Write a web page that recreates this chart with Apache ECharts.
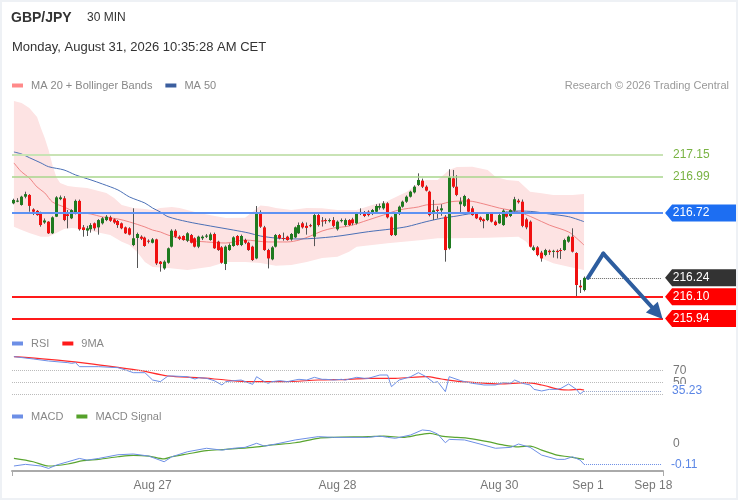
<!DOCTYPE html>
<html>
<head>
<meta charset="utf-8">
<title>GBP/JPY 30 MIN</title>
<script src="https://cdn.jsdelivr.net/npm/echarts@6.0.0/dist/echarts.min.js"></script>
<style>
  html, body { margin: 0; padding: 0; background: #fff; }
  #chart { width: 738px; height: 500px; }
  #frame { position: absolute; left: 0; top: 0; width: 738px; height: 500px; box-sizing: border-box; border: 2px solid #eef1f5; pointer-events: none; }
</style>
</head>
<body>
<div id="chart"></div>
<div id="frame"></div>
<script>
// candles, 30 min, index 0 = first visible bar
var opens = [216.792,216.804,216.780,216.841,216.854,216.747,216.736,216.722,216.650,216.656,
  216.570,216.693,216.823,216.829,216.711,216.681,216.718,216.810,216.614,216.590,
  216.600,216.644,216.614,216.644,216.668,216.688,216.673,216.661,216.644,216.614,
  216.607,216.483,216.535,216.545,216.538,216.515,216.500,216.525,216.360,216.310,
  216.352,216.471,216.589,216.545,216.550,216.515,216.557,216.533,216.471,216.533,
  216.545,216.520,216.565,216.508,216.466,216.343,216.446,216.476,216.550,216.483,
  216.520,216.500,216.471,216.384,216.713,216.614,216.446,216.377,216.471,216.557,
  216.535,216.545,216.525,216.540,216.570,216.644,216.625,216.630,216.545,216.705,
  216.665,216.668,216.660,216.668,216.600,216.660,216.631,216.668,216.673,216.644,
  216.718,216.722,216.730,216.718,216.730,216.760,216.755,216.792,216.688,216.557,
  216.713,216.767,216.804,216.841,216.873,216.928,216.960,216.915,216.878,216.725,
  216.745,216.740,216.693,216.459,216.977,216.915,216.785,216.773,216.822,216.755,
  216.718,216.688,216.673,216.668,216.713,216.656,216.644,216.631,216.722,216.698,
  216.738,216.812,216.804,216.673,216.656,216.446,216.466,216.427,216.409,216.441,
  216.435,216.440,216.446,216.446,216.508,216.545,216.424,216.182,216.150];
var closes = [216.817,216.812,216.841,216.860,216.773,216.730,216.705,216.631,216.665,216.570,
  216.688,216.836,216.836,216.668,216.698,216.742,216.810,216.600,216.594,216.607,
  216.631,216.607,216.668,216.681,216.693,216.663,216.650,216.631,216.607,216.570,
  216.560,216.533,216.565,216.530,216.476,216.508,216.525,216.347,216.343,216.360,
  216.459,216.589,216.545,216.530,216.520,216.570,216.500,216.471,216.545,216.545,
  216.553,216.562,216.459,216.446,216.352,216.471,216.483,216.540,216.483,216.550,
  216.500,216.446,216.372,216.713,216.619,216.446,216.384,216.466,216.557,216.533,
  216.528,216.520,216.565,216.614,216.631,216.614,216.610,216.625,216.705,216.631,
  216.660,216.660,216.668,216.625,216.656,216.668,216.668,216.631,216.644,216.722,
  216.728,216.698,216.705,216.742,216.772,216.772,216.792,216.688,216.557,216.713,
  216.767,216.804,216.841,216.878,216.915,216.965,216.915,216.886,216.705,216.740,
  216.735,216.755,216.446,216.985,216.915,216.854,216.805,216.846,216.730,216.705,
  216.681,216.668,216.660,216.713,216.656,216.631,216.705,216.738,216.693,216.742,
  216.822,216.800,216.625,216.614,216.471,216.466,216.409,216.384,216.446,216.430,
  216.440,216.431,216.440,216.520,216.545,216.434,216.187,216.170,216.240];
var lows = [216.785,216.800,216.775,216.829,216.730,216.705,216.700,216.619,216.640,216.565,
  216.565,216.690,216.815,216.660,216.607,216.675,216.710,216.590,216.545,216.550,
  216.575,216.590,216.560,216.635,216.660,216.655,216.640,216.610,216.600,216.565,
  216.555,216.475,216.313,216.520,216.470,216.495,216.495,216.335,216.286,216.300,
  216.345,216.465,216.535,216.520,216.515,216.505,216.495,216.465,216.460,216.520,
  216.535,216.515,216.455,216.440,216.345,216.298,216.440,216.470,216.478,216.475,
  216.490,216.440,216.365,216.378,216.610,216.440,216.310,216.370,216.465,216.525,
  216.515,216.515,216.515,216.535,216.565,216.605,216.560,216.615,216.475,216.620,
  216.620,216.640,216.650,216.615,216.590,216.650,216.620,216.625,216.630,216.635,
  216.705,216.690,216.695,216.705,216.720,216.745,216.745,216.680,216.550,216.550,
  216.705,216.760,216.795,216.835,216.865,216.920,216.905,216.880,216.695,216.668,
  216.680,216.700,216.360,216.450,216.905,216.845,216.718,216.765,216.720,216.700,
  216.675,216.655,216.607,216.660,216.650,216.625,216.640,216.625,216.685,216.690,
  216.730,216.790,216.615,216.600,216.465,216.440,216.400,216.360,216.400,216.410,
  216.390,216.384,216.380,216.440,216.500,216.428,216.100,216.128,216.140];
var highs = [216.826,216.830,216.848,216.878,216.860,216.755,216.742,216.730,216.680,216.660,
  216.695,216.845,216.850,216.845,216.742,216.748,216.820,216.820,216.631,216.625,
  216.645,216.650,216.675,216.690,216.705,216.700,216.680,216.668,216.650,216.620,
  216.615,216.755,216.575,216.555,216.545,216.525,216.535,216.530,216.365,216.370,
  216.465,216.600,216.600,216.555,216.555,216.578,216.565,216.540,216.552,216.555,
  216.565,216.575,216.575,216.515,216.475,216.480,216.495,216.548,216.557,216.560,
  216.530,216.508,216.478,216.772,216.740,216.625,216.455,216.475,216.565,216.565,
  216.575,216.552,216.572,216.620,216.650,216.655,216.650,216.640,216.715,216.720,
  216.690,216.680,216.680,216.690,216.665,216.680,216.680,216.675,216.685,216.728,
  216.755,216.735,216.740,216.750,216.785,216.790,216.808,216.800,216.695,216.720,
  216.775,216.812,216.850,216.885,216.925,217.014,216.975,216.925,216.885,216.817,
  216.770,216.785,216.705,217.044,217.039,217.000,216.836,216.855,216.830,216.770,
  216.725,216.695,216.680,216.720,216.720,216.665,216.718,216.748,216.730,216.748,
  216.840,216.825,216.820,216.685,216.665,216.480,216.475,216.440,216.455,216.450,
  216.448,216.450,216.460,216.530,216.553,216.607,216.430,216.224,216.250];

// overlays as [bar index, value]
var ma20 = [[0,217.091],[2,217.024],[4,216.98],[6,216.913],[8,216.869],[10,216.802],[13,216.765],[16,216.728],
  [20,216.713],[23,216.691],[27,216.676],[30,216.654],[34,216.617],[36,216.594],[38,216.58],[40,216.557],
  [45,216.52],[50,216.506],[55,216.498],[60,216.52],[66,216.506],[71,216.506],[74,216.52],[77,216.55],
  [80,216.587],[83,216.609],[87,216.624],[92,216.669],[96,216.706],[100,216.743],[105,216.765],[107,216.78],
  [111,216.787],[113,216.802],[116,216.809],[118,216.809],[122,216.787],[126,216.757],[131,216.728],
  [135,216.683],[139,216.631],[144,216.58],[146,216.535],[148,216.483]];
var ma50 = [[0,217.172],[2,217.157],[4,217.13],[7,217.091],[9,217.063],[13,217.039],[16,217.002],[20,216.965],
  [23,216.935],[27,216.891],[30,216.839],[34,216.794],[36,216.757],[38,216.728],[40,216.693],[45,216.656],
  [51,216.624],[57,216.594],[61,216.572],[64,216.55],[68,216.535],[74,216.528],[83,216.545],[92,216.582],
  [98,216.602],[102,216.619],[107,216.656],[111,216.681],[115,216.698],[118,216.713],[122,216.723],
  [126,216.723],[131,216.735],[135,216.73],[139,216.713],[144,216.693],[148,216.656]];
var bbUpper = [[0,217.55],[2,217.535],[4,217.498],[6,217.431],[7,217.35],[8,217.276],[9,217.187],[10,217.076],
  [11,216.987],[12,216.943],[14,216.92],[16,216.913],[19,216.906],[21,216.891],[24,216.869],[26,216.831],
  [28,216.78],[31,216.757],[34,216.75],[36,216.743],[38,216.757],[41,216.765],[43,216.757],[48,216.72],
  [55,216.683],[60,216.686],[62,216.73],[64,216.775],[66,216.77],[68,216.757],[72,216.743],[76,216.757],
  [80,216.755],[84,216.743],[89,216.743],[93,216.78],[97,216.809],[102,216.878],[105,216.94],[107,216.965],
  [110,216.965],[113,217.039],[115,217.061],[119,217.063],[123,217.039],[125,216.989],[128,216.965],
  [131,216.957],[134,216.878],[137,216.866],[140,216.854],[145,216.854],[148,216.861]];
var bbLower = [[0,216.619],[2,216.594],[4,216.572],[7,216.545],[9,216.545],[11,216.572],[13,216.602],[15,216.609],
  [18,216.602],[21,216.582],[25,216.557],[28,216.508],[30,216.483],[32,216.431],[34,216.357],[36,216.32],
  [40,216.313],[45,216.298],[51,216.323],[55,216.357],[60,216.357],[64,216.35],[68,216.33],[72,216.335],
  [76,216.357],[80,216.387],[84,216.397],[87,216.434],[89,216.471],[97,216.496],[106,216.52],[110,216.533],
  [114,216.533],[123,216.537],[131,216.545],[133,216.508],[135,216.434],[137,216.385],[140,216.348],
  [144,216.323],[148,216.298]];

var rsi = [[0,94.1],[5,90.1],[9,86.6],[14,83.8],[15,82.6],[16,83.8],[17,76.9],[22,76.9],[27,75.2],[29,71.2],
  [31,66.6],[34,66.6],[36,54.0],[38,51.2],[40,60.9],[41,60.9],[45,59.7],[47,55.7],[48,58.0],[50,56.9],
  [52,52.9],[54,45.5],[55,51.2],[57,52.9],[59,54.0],[60,51.2],[62,46.6],[63,59.7],[65,51.2],[66,48.3],
  [67,51.2],[69,52.9],[71,51.2],[73,54.0],[74,55.2],[76,54.0],[78,58.6],[80,55.2],[81,55.2],[83,54.0],
  [85,55.2],[86,54.0],[89,58.6],[91,56.9],[92,56.9],[95,62.6],[97,62.6],[98,42.6],[100,54.0],[103,59.7],
  [105,66.6],[107,59.7],[109,49.5],[110,51.2],[112,34.0],[113,59.7],[116,52.9],[117,51.2],[119,48.3],
  [121,46.6],[122,45.5],[125,45.5],[127,49.5],[129,48.3],[130,54.0],[132,48.3],[134,45.5],[135,38.0],
  [137,35.2],[139,38.0],[141,38.0],[142,39.7],[144,47.2],[146,38.0],[147,30.0],[148,35.23]];
var rsiMa = [[0,94.1],[9,89.5],[19,82.6],[27,75.8],[33,70.0],[40,60.9],[48,58.0],[55,54.0],[61,51.2],[70,51.2],
  [79,54.0],[87,55.2],[92,56.9],[99,56.9],[107,59.7],[111,55.7],[116,51.2],[119,50.0],[126,47.2],[133,49.5],
  [137,45.5],[142,37.5],[144,36.9],[147,38.0],[148,36.9]];
var macd = [[0,-0.119],[3,-0.110],[7,-0.119],[9,-0.132],[11,-0.114],[14,-0.096],[17,-0.078],[19,-0.087],
  [22,-0.078],[27,-0.058],[31,-0.054],[35,-0.065],[39,-0.096],[41,-0.069],[45,-0.042],[50,-0.023],
  [54,-0.033],[57,-0.023],[60,-0.018],[63,0.004],[65,-0.011],[68,0.000],[73,0.022],[79,0.040],[83,0.036],
  [87,0.036],[92,0.036],[95,0.043],[97,0.036],[99,0.031],[103,0.049],[106,0.076],[108,0.072],[110,0.054],
  [112,0.007],[113,0.025],[117,0.022],[121,0.000],[125,-0.023],[129,-0.018],[131,0.000],[134,-0.018],
  [137,-0.060],[141,-0.083],[143,-0.083],[145,-0.069],[147,-0.087],[148,-0.110]];
var macdSignal = [[0,-0.078],[5,-0.096],[9,-0.119],[14,-0.108],[18,-0.090],[22,-0.083],[27,-0.069],
  [31,-0.061],[35,-0.065],[39,-0.080],[41,-0.069],[45,-0.054],[50,-0.036],[55,-0.029],[62,-0.018],
  [67,-0.005],[73,0.007],[79,0.031],[83,0.036],[92,0.040],[96,0.043],[101,0.036],[105,0.049],[108,0.058],
  [111,0.043],[115,0.036],[118,0.031],[123,0.013],[127,-0.005],[131,-0.015],[134,-0.011],[137,-0.033],
  [141,-0.060],[144,-0.069],[148,-0.083]];

// key levels: resistance 2, resistance 1, pivot, last, support 1, support 2
var levels = [217.15, 216.99, 216.72, 216.24, 216.10, 215.94];
var rsiLevels = [70, 50, 30];
var lastRsi = 35.23;
var lastMacd = -0.11;
var forecast = [[149, 216.24], [153, 216.42], [167, 215.98]];

var tickIdx = [36, 84, 126, 149, 166];
var tickText = ['Aug 27', 'Aug 28', 'Aug 30', 'Sep 1', 'Sep 18'];
var slotCount = 169;

var FONT = 'Liberation Sans, Arial, sans-serif';
var UP = '#1f7a1f', DOWN = '#f01010', WICK = '#555';
var BLUE = '#6d8fe6', ARROW = '#2d5d9f';
var TAG = 'path://M0,8.5 L7,0 L72,0 L72,17 L7,17 Z';

var cats = [];
for (var i = 0; i < slotCount; i++) cats.push(String(i));
var lastIdx = opens.length - 1;
var candles = opens.map(function (o, i) { return [i, o, closes[i], lows[i], highs[i]]; });

function tag(v, color) {
  return {
    coord: [slotCount - 1, v], value: v.toFixed(2),
    symbol: TAG, symbolSize: [72, 17], symbolOffset: [40, 0],
    itemStyle: { color: color },
    label: { show: true, position: 'inside', offset: [-10, 0], color: '#fff', fontSize: 12, fontFamily: FONT, formatter: '{c}' }
  };
}
function endLabel(text, color) {
  return { show: true, position: 'end', distance: 10, formatter: text, color: color, fontSize: 12, fontFamily: FONT };
}

var chart = echarts.init(document.getElementById('chart'));

var option = {
  animation: false,
  textStyle: { fontFamily: FONT },
  title: [
    { text: 'GBP/JPY', left: 11, top: 11, padding: 0, textStyle: { fontSize: 14, fontWeight: 'bold', color: '#333', fontFamily: FONT } },
    { text: '30 MIN', left: 87, top: 12, padding: 0, textStyle: { fontSize: 12, fontWeight: 'normal', color: '#333', fontFamily: FONT } },
    { text: 'Monday, August 31, 2026 10:35:28 AM CET', left: 12, top: 41, padding: 0, textStyle: { fontSize: 13, fontWeight: 'normal', color: '#333', fontFamily: FONT } },
    { text: 'Research © 2026 Trading Central', right: 9, top: 80, padding: 0, textStyle: { fontSize: 11, fontWeight: 'normal', color: '#999', fontFamily: FONT } }
  ],
  legend: [
    { data: ['MA 20 + Bollinger Bands', 'MA 50'], top: 80 },
    { data: ['RSI', '9MA'], top: 338 },
    { data: ['MACD', 'MACD Signal'], top: 411 }
  ].map(function (l) {
    return Object.assign({
      left: 12, padding: 0, icon: 'rect', itemWidth: 11, itemHeight: 4, itemGap: 13, selectedMode: false,
      itemStyle: { borderWidth: 0 },
      textStyle: { color: '#888', fontSize: 11, fontFamily: FONT, padding: [0, 0, 0, 3] }
    }, l);
  }),
  grid: [
    { left: 12, right: 75, top: 95, height: 230, outerBoundsMode: 'none' },
    { left: 12, right: 75, top: 353.2, height: 58.3, outerBoundsMode: 'none' },
    { left: 12, right: 75, top: 420, height: 51, outerBoundsMode: 'none' }
  ],
  xAxis: [0, 1, 2].map(function (g) {
    return {
      type: 'category', gridIndex: g, data: cats, boundaryGap: true, show: g === 2, position: 'bottom',
      axisLine: { onZero: false, lineStyle: { color: '#aaa', width: 2 } },
      axisTick: { show: true, length: 5, interval: function (idx) { return idx === 0; }, lineStyle: { color: '#aaa' } },
      axisLabel: {
        color: '#777', fontSize: 12, margin: 9, fontFamily: FONT,
        interval: function (idx) { return tickIdx.indexOf(idx) >= 0; },
        formatter: function (v, idx) { var k = tickIdx.indexOf(idx); return k >= 0 ? tickText[k] : ''; }
      },
      splitLine: { show: false }
    };
  }),
  yAxis: [
    { type: 'value', gridIndex: 0, min: 215.891, max: 217.594, show: false },
    { type: 'value', gridIndex: 1, min: 0, max: 100, show: false },
    { type: 'value', gridIndex: 2, min: -0.146, max: 0.13, show: false }
  ],
  series: [
    {
      // bollinger band fill
      type: 'custom', name: 'band', xAxisIndex: 0, yAxisIndex: 0, z: 1, silent: true,
      data: [[0, bbUpper[0][1]]],
      renderItem: function (params, api) {
        var pts = bbUpper.map(function (p) { return api.coord(p); })
          .concat(bbLower.slice().reverse().map(function (p) { return api.coord(p); }));
        return { type: 'polygon', shape: { points: pts }, style: { fill: '#fde3e3' } };
      }
    },
    {
      type: 'line', name: 'MA 20 + Bollinger Bands', xAxisIndex: 0, yAxisIndex: 0, z: 2, data: ma20,
      smooth: 0.3, symbol: 'none', itemStyle: { color: '#ff8a8a' }, lineStyle: { color: '#f08585', width: 1 }
    },
    {
      type: 'line', name: 'MA 50', xAxisIndex: 0, yAxisIndex: 0, z: 2, data: ma50,
      smooth: 0.3, symbol: 'none', itemStyle: { color: '#3b5e9e' }, lineStyle: { color: '#4b70b6', width: 1 }
    },
    {
      type: 'line', name: 'levels', xAxisIndex: 0, yAxisIndex: 0, z: 2, clip: false,
      data: [[lastIdx, levels[3]]], symbol: 'none', lineStyle: { width: 0 },
      markLine: {
        silent: true, symbol: ['none', 'none'], animation: false, label: { show: false },
        data: [
          { yAxis: levels[0], lineStyle: { color: '#c9e3b5', width: 2, type: 'solid' }, label: endLabel('217.15', '#79b343') },
          { yAxis: levels[1], lineStyle: { color: '#a9d68c', width: 1.5, type: 'solid' }, label: endLabel('216.99', '#79b343') },
          { yAxis: levels[2], lineStyle: { color: '#5e92f3', width: 2, type: 'solid' } },
          { yAxis: levels[4], lineStyle: { color: '#ff1a1a', width: 2, type: 'solid' } },
          { yAxis: levels[5], lineStyle: { color: '#ff1a1a', width: 2, type: 'solid' } },
          [{ coord: [lastIdx + 1, levels[3]], lineStyle: { color: '#666', width: 1, type: 'dotted' } },
           { coord: [slotCount - 1, levels[3]] }]
        ]
      },
      markPoint: {
        silent: true, animation: false,
        data: [tag(levels[2], '#1d6ef2'), tag(levels[3], '#333333'), tag(levels[4], '#ff0000'), tag(levels[5], '#ff0000')]
      }
    },
    {
      type: 'custom', name: 'GBP/JPY', xAxisIndex: 0, yAxisIndex: 0, z: 3, clip: true,
      data: candles, encode: { x: 0, y: [1, 2, 3, 4] },
      renderItem: function (params, api) {
        var x = api.value(0), o = api.value(1), c = api.value(2);
        var pO = api.coord([x, o]), pC = api.coord([x, c]);
        var pL = api.coord([x, api.value(3)]), pH = api.coord([x, api.value(4)]);
        var left = Math.round(pO[0] - 1.5);
        var top = Math.min(pO[1], pC[1]);
        var h = Math.max(Math.abs(pO[1] - pC[1]), 1);
        return {
          type: 'group',
          children: [
            { type: 'line', shape: { x1: left + 1.5, y1: pH[1], x2: left + 1.5, y2: pL[1] }, style: { stroke: WICK, lineWidth: 1 } },
            { type: 'rect', shape: { x: left, y: top, width: 3, height: h }, style: { fill: c >= o ? UP : DOWN } }
          ]
        };
      }
    },
    {
      type: 'lines', coordinateSystem: 'cartesian2d', xAxisIndex: 0, yAxisIndex: 0, z: 6, silent: true,
      polyline: false, symbol: ['none', 'none'],
      lineStyle: { color: ARROW, width: 4, opacity: 1, curveness: 0, cap: 'round' },
      data: [{ coords: [forecast[0], forecast[1]] }]
    },
    {
      type: 'lines', coordinateSystem: 'cartesian2d', xAxisIndex: 0, yAxisIndex: 0, z: 6, silent: true,
      polyline: false, symbol: ['none', 'triangle'], symbolSize: [0, 16],
      lineStyle: { color: ARROW, width: 4, opacity: 1, curveness: 0, cap: 'round' },
      data: [{ coords: [forecast[1], forecast[2]] }]
    },
    {
      type: 'line', name: 'RSI', xAxisIndex: 1, yAxisIndex: 1, z: 3, data: rsi, clip: false,
      symbol: 'none', itemStyle: { color: BLUE }, lineStyle: { color: BLUE, width: 1 },
      markLine: {
        silent: true, symbol: ['none', 'none'], animation: false,
        lineStyle: { color: '#bbb', type: 'dotted', width: 1 },
        data: rsiLevels.map(function (v) {
          return { yAxis: v, label: endLabel(String(v), '#777') };
        }).concat([[
          { coord: [lastIdx, lastRsi], lineStyle: { color: '#9aa8c8', type: 'dotted', width: 1 },
            label: Object.assign(endLabel(lastRsi.toFixed(2), '#5b86e5'), { backgroundColor: '#fff', padding: [1, 1] }) },
          { coord: [slotCount - 1, lastRsi] }
        ]])
      }
    },
    {
      type: 'line', name: '9MA', xAxisIndex: 1, yAxisIndex: 1, z: 2, data: rsiMa,
      smooth: 0.3, symbol: 'none', itemStyle: { color: '#ff1a1a' }, lineStyle: { color: '#ff2a2a', width: 1.2 }
    },
    {
      type: 'line', name: 'MACD', xAxisIndex: 2, yAxisIndex: 2, z: 3, data: macd, clip: false,
      symbol: 'none', itemStyle: { color: BLUE }, lineStyle: { color: BLUE, width: 1 },
      markLine: {
        silent: true, symbol: ['none', 'none'], animation: false,
        data: [
          { yAxis: 0, lineStyle: { color: 'rgba(0,0,0,0)', width: 0 }, label: endLabel('0', '#777') },
          [{ coord: [lastIdx, lastMacd], lineStyle: { color: BLUE, type: 'dotted', width: 1 },
             label: endLabel(lastMacd.toFixed(2), '#5b86e5') },
           { coord: [slotCount - 1, lastMacd] }]
        ]
      }
    },
    {
      type: 'line', name: 'MACD Signal', xAxisIndex: 2, yAxisIndex: 2, z: 2, data: macdSignal,
      smooth: 0.3, symbol: 'none', itemStyle: { color: '#55a12a' }, lineStyle: { color: '#5aa530', width: 1.2 }
    }
  ]
};

chart.setOption(option);
</script>
</body>
</html>
